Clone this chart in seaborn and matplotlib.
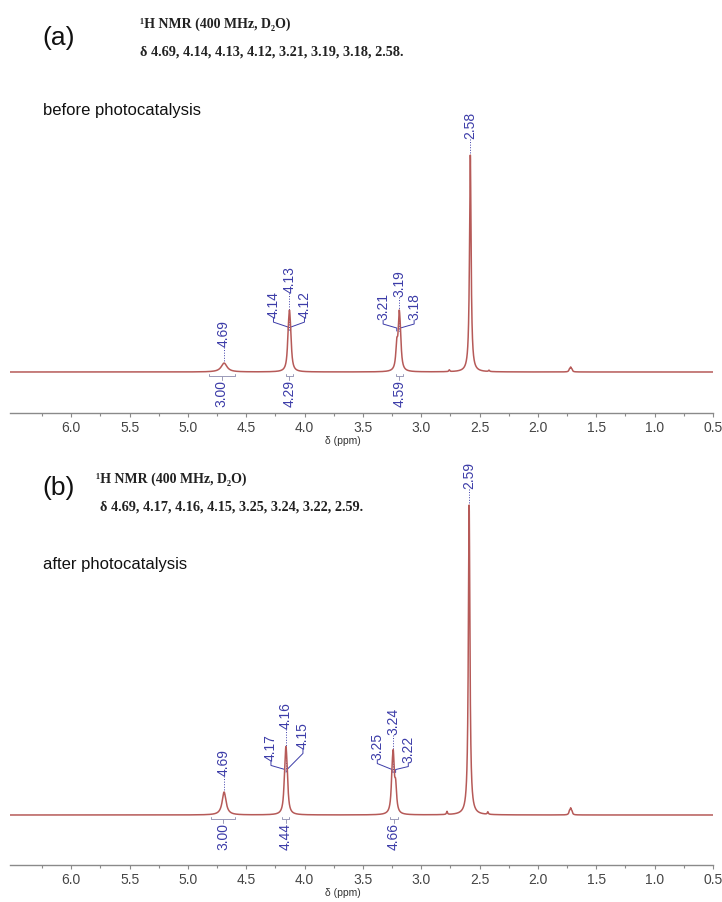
import numpy as np
import pandas as pd
import matplotlib
matplotlib.use("Agg")
import matplotlib.pyplot as plt
import seaborn as sns
from matplotlib.ticker import FixedLocator

# ------------------------------------------------------------------ data
# (a) before photocatalysis: peak list (ppm), heights (rel.), half widths (ppm)
a_shift = [4.69, 4.14, 4.13, 4.12, 3.21, 3.19, 3.18, 2.58, 2.76, 2.42, 1.73, 1.72, 1.71]
a_height = [0.041, 0.095, 0.19, 0.095, 0.105, 0.21, 0.105, 1.0, 0.008, 0.006, 0.010, 0.018, 0.010]
a_hwhm = [0.03, 0.01, 0.01, 0.01, 0.01, 0.01, 0.01, 0.008, 0.005, 0.005, 0.006, 0.006, 0.006]
a_singlets = [4.69, 2.58]
a_multiplets = [[4.14, 4.13, 4.12], [3.21, 3.19, 3.18]]
a_int_values = [3.00, 4.29, 4.59]
a_int_ranges = [(4.82, 4.60), (4.16, 4.10), (3.22, 3.16)]
a_header = "\u00b9H NMR (400 MHz, D\u2082O)"
a_list = "\u03b4 4.69, 4.14, 4.13, 4.12, 3.21, 3.19, 3.18, 2.58."
a_title = "before photocatalysis"

# (b) after photocatalysis
b_shift = [4.69, 4.17, 4.16, 4.15, 3.25, 3.24, 3.22, 2.59, 2.78, 2.43, 1.73, 1.72, 1.71]
b_height = [0.074, 0.074, 0.147, 0.074, 0.078, 0.155, 0.078, 1.0, 0.01, 0.008, 0.010, 0.018, 0.010]
b_hwhm = [0.02, 0.01, 0.01, 0.01, 0.01, 0.01, 0.01, 0.008, 0.005, 0.005, 0.006, 0.006, 0.006]
b_singlets = [4.69, 2.59]
b_multiplets = [[4.17, 4.16, 4.15], [3.25, 3.24, 3.22]]
b_int_values = [3.00, 4.44, 4.66]
b_int_ranges = [(4.80, 4.60), (4.19, 4.13), (3.27, 3.20)]
b_header = "\u00b9H NMR (400 MHz, D\u2082O)"
b_list = "\u03b4 4.69, 4.17, 4.16, 4.15, 3.25, 3.24, 3.22, 2.59."
b_title = "after photocatalysis"

x_major_ticks = [6.0, 5.5, 5.0, 4.5, 4.0, 3.5, 3.0, 2.5, 2.0, 1.5, 1.0, 0.5]
x_minor_ticks = [6.25, 5.75, 5.25, 4.75, 4.25, 3.75, 3.25, 2.75, 2.25, 1.75, 1.25, 0.75]
# ------------------------------------------------------------------ style
sns.set_style("white")
plt.rcParams["font.family"] = ["Liberation Sans", "DejaVu Sans"]

W, H = 722, 902
fig = plt.figure(figsize=(W / 100, H / 100), dpi=100)

BLUE = "#3c3ca8"
RED = "#b65a58"
GRAY = "#8a8a8a"


def fig_xy(xp, yp):
    return xp / W, 1 - yp / H


def make_axes(top_px, spine_px, baseline_px, px_per_unit):
    left, right = 10, 713
    ax = fig.add_axes([left / W, 1 - spine_px / H, (right - left) / W, (spine_px - top_px) / H])
    ylo = -(spine_px - baseline_px) / px_per_unit
    yhi = ylo + (spine_px - top_px) / px_per_unit
    ax.set_xlim(6.525, 0.5)
    ax.set_ylim(ylo, yhi)
    return ax


def spectrum(shifts, heights, widths, grid):
    y = np.zeros_like(grid)
    for s, h, w in zip(shifts, heights, widths):
        y += h / (1 + ((grid - s) / w) ** 2)
    return y


def px(ax, x, y):
    return ax.transData.transform((x, y))


def data(ax, p):
    return ax.transData.inverted().transform(p)


def poly(ax, pts, **kw):
    d = np.array([data(ax, p) for p in pts])
    ax.plot(d[:, 0], d[:, 1], clip_on=False, **kw)


def label(ax, p, text, va="bottom"):
    d = data(ax, p)
    ax.text(d[0], d[1], text, rotation=90, ha="center", va=va, color=BLUE,
            fontsize=10, clip_on=False, zorder=5)


def draw_panel(ax, shifts, heights, widths, singlets, multiplets, ivals, iranges, mlayout, spine_h):
    grid = np.linspace(6.525, 0.5, 12000)
    y = spectrum(shifts, heights, widths, grid)
    df = pd.DataFrame({"ppm": grid, "I": y})
    sns.lineplot(data=df, x="ppm", y="I", ax=ax, color=RED, lw=1.1, sort=False,
                 estimator=None, zorder=3)

    def top_at(s):
        m = (grid > s - 0.03) & (grid < s + 0.03)
        return y[m].max()

    # singlets
    for s in singlets:
        t = px(ax, s, top_at(s))
        label(ax, (t[0], t[1] + 16), f"{s:.2f}")
        poly(ax, [(t[0], t[1] + 16), (t[0], t[1] + 1)], color=BLUE, lw=0.7, ls=":")
    # multiplets
    for mult, lay in zip(multiplets, mlayout):
        c = mult[1]
        t = px(ax, c, top_at(c))
        gap, conv, sides = lay
        label(ax, (t[0], t[1] + gap), f"{c:.2f}")
        poly(ax, [(t[0], t[1] + gap), (t[0], t[1] + conv - 3)], color=BLUE, lw=0.7, ls=":", zorder=1)
        for s, (dx, dy) in zip([mult[0], mult[2]], sides):
            xl, yl = t[0] + dx, t[1] + dy
            label(ax, (xl, yl), f"{s:.2f}")
            xp = px(ax, s, 0)[0]
            poly(ax, [(xl, yl), (xl, yl - 4), (xp, t[1] + conv), (xp, t[1] + conv - 3)],
                 color=BLUE, lw=0.7, zorder=1)
    # integrals
    for v, (r0, r1) in zip(ivals, iranges):
        b0 = px(ax, r0, 0)
        b1 = px(ax, r1, 0)
        yb = b0[1] - 4
        poly(ax, [(b0[0], yb + 2), (b0[0], yb), (b1[0], yb), (b1[0], yb + 2)], color="#9a9ab8", lw=0.7)
        xm = (b0[0] + b1[0]) / 2
        poly(ax, [(xm, yb), (xm, yb - 4)], color="#9a9ab8", lw=0.7)
        label(ax, (xm, yb - 4), f"{v:.2f}", va="top")

    ax.xaxis.set_major_locator(FixedLocator(x_major_ticks))
    ax.xaxis.set_minor_locator(FixedLocator(x_minor_ticks))
    ax.set_yticks([])
    for sp in ["left", "right", "top"]:
        ax.spines[sp].set_visible(False)
    ax.spines["bottom"].set_color(GRAY)
    ax.spines["bottom"].set_linewidth(1.0)
    ax.tick_params(axis="x", which="major", direction="out", length=3, width=0.8, color=GRAY,
                   labelsize=10, labelcolor="#454545", pad=3, bottom=True)
    ax.tick_params(axis="x", which="minor", direction="out", length=2, width=0.8, color=GRAY, bottom=True)
    ax.set_xlabel("\u03b4 (ppm)", fontsize=7.5, color="#333333", labelpad=0)
    ax.xaxis.set_label_coords((343 - 10) / 703, -23.0 / spine_h)
    ax.set_ylabel("")


# panel (a)
axa = make_axes(top_px=110, spine_px=413, baseline_px=372, px_per_unit=217)
draw_panel(axa, a_shift, a_height, a_hwhm, a_singlets, a_multiplets, a_int_values, a_int_ranges,
           [(17, -17, [(-16, -8), (15, -8)]), (13, -18, [(-16, -10), (15, -10)])], 303)

# panel (b)
axb = make_axes(top_px=460, spine_px=865, baseline_px=815, px_per_unit=310)
draw_panel(axb, b_shift, b_height, b_hwhm, b_singlets, b_multiplets, b_int_values, b_int_ranges,
           [(17, -23, [(-15, -15), (17, -3)]), (15, -20, [(-16, -10), (15, -13)])], 405)

# texts
serif = ["Liberation Serif", "DejaVu Serif"]
fig.text(*fig_xy(42, 38), "(a)", fontsize=19, va="center", ha="left", color="#111111")
fig.text(*fig_xy(140, 24), a_header, fontsize=10, fontweight="bold", family=serif, va="center", color="#222222")
fig.text(*fig_xy(140, 52), a_list, fontsize=10.3, fontweight="bold", family=serif, va="center", color="#222222")
fig.text(*fig_xy(43, 111), a_title, fontsize=12, va="center", ha="left", color="#111111")

fig.text(*fig_xy(42, 488), "(b)", fontsize=19, va="center", ha="left", color="#111111")
fig.text(*fig_xy(96, 479), b_header, fontsize=10, fontweight="bold", family=serif, va="center", color="#222222")
fig.text(*fig_xy(100, 507), b_list, fontsize=10.3, fontweight="bold", family=serif, va="center", color="#222222")
fig.text(*fig_xy(43, 564), b_title, fontsize=12, va="center", ha="left", color="#111111")

fig.savefig("out.png", dpi=100)
